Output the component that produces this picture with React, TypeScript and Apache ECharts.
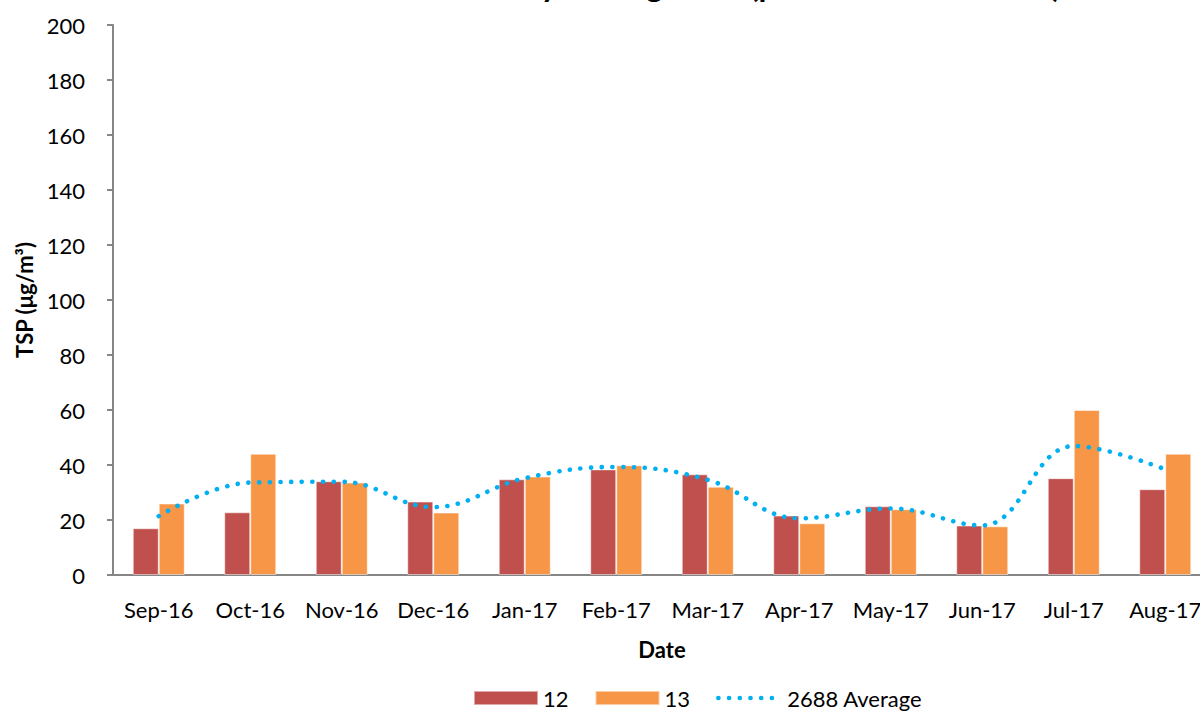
import React, { useEffect, useRef } from "react";
import * as echarts from "echarts";

const categories = [
  "Sep-16", "Oct-16", "Nov-16", "Dec-16", "Jan-17", "Feb-17",
  "Mar-17", "Apr-17", "May-17", "Jun-17", "Jul-17", "Aug-17",
];
const site12 = [17.0, 22.8, 34.1, 26.7, 34.8, 38.4, 36.6, 21.6, 25.0, 18.0, 35.2, 31.2];
const site13 = [26.0, 44.1, 33.6, 22.7, 35.8, 39.9, 32.1, 18.8, 23.9, 17.7, 60.0, 44.1];
const average2688 = [21.4, 33.6, 33.9, 24.7, 35.2, 39.3, 34.6, 20.6, 24.2, 18.0, 46.9, 38.4];
const yTicks = { min: 0, max: 200, interval: 20 };

const FONT = "Lato";

export default function App() {
  const ref = useRef<HTMLDivElement>(null);
  useEffect(() => {
    if (!ref.current) return;
    const chart = echarts.init(ref.current, undefined, { renderer: "svg" });
    chart.setOption({
      animation: false,
      textStyle: { fontFamily: FONT },
      grid: { left: 113, top: 25, bottom: 136, right: 9, containLabel: false },
      graphic: [
        {
          type: "text",
          left: 437,
          y: -16,
          style: {
            text: "Monthly Average TSP (period 2016 to 2017)",
            font: `bold 32px ${FONT}`,
            fill: "#000",
            verticalAlign: "middle",
          },
        },
      ],
      legend: {
        left: 468,
        top: 682,
        itemWidth: 64,
        itemHeight: 14,
        itemGap: 26,
        textStyle: { fontFamily: FONT, fontSize: 22, color: "#000" },
        data: [
          { name: "12", icon: "rect" },
          { name: "13", icon: "rect" },
          {
            name: "2688 Average",
            itemStyle: { opacity: 0 },
            lineStyle: { width: 4.6, type: [0.1, 10.6], cap: "round", color: "#00B0F0" },
          },
        ],
      },
      xAxis: {
        type: "category",
        data: categories,
        name: "Date",
        nameLocation: "middle",
        nameGap: 63,
        nameTextStyle: { fontFamily: FONT, fontSize: 22, fontWeight: "bold", color: "#000" },
        axisLine: { lineStyle: { color: "#868686", width: 2 } },
        axisTick: { show: false },
        axisLabel: { fontFamily: FONT, fontSize: 22, color: "#000", margin: 23, interval: 0 },
      },
      yAxis: {
        type: "value",
        min: yTicks.min,
        max: yTicks.max,
        interval: yTicks.interval,
        name: "TSP (μg/m³)",
        nameLocation: "middle",
        nameGap: 76,
        nameTextStyle: { fontFamily: FONT, fontSize: 22, fontWeight: "bold", color: "#000" },
        axisLine: { show: true, lineStyle: { color: "#868686", width: 2 } },
        axisTick: { show: true, length: 6, lineStyle: { color: "#868686", width: 2 } },
        splitLine: { show: false },
        axisLabel: { fontFamily: FONT, fontSize: 22, color: "#000", margin: 28 },
      },
      series: [
        {
          name: "12",
          type: "bar",
          data: site12,
          barWidth: 26,
          barGap: "0%",
          itemStyle: { color: "#C0504D", borderColor: "rgba(255,255,255,0.5)", borderWidth: 1 },
        },
        {
          name: "13",
          type: "bar",
          data: site13,
          barWidth: 26,
          barGap: "0%",
          itemStyle: { color: "#F79646", borderColor: "rgba(255,255,255,0.5)", borderWidth: 1 },
        },
        {
          name: "2688 Average",
          type: "line",
          data: average2688,
          smooth: 0.4,
          symbol: "none",
          itemStyle: { color: "#00B0F0" },
          lineStyle: { color: "#00B0F0", width: 4.6, type: [0.1, 10.6], cap: "round" },
        },
      ],
    });
    return () => chart.dispose();
  }, []);
  return (
    <div style={{ position: "fixed", left: 0, top: 0, width: 1200, height: 711, overflow: "hidden", background: "#fff" }}>
      <div ref={ref} style={{ width: 1220, height: 711 }} />
    </div>
  );
}
